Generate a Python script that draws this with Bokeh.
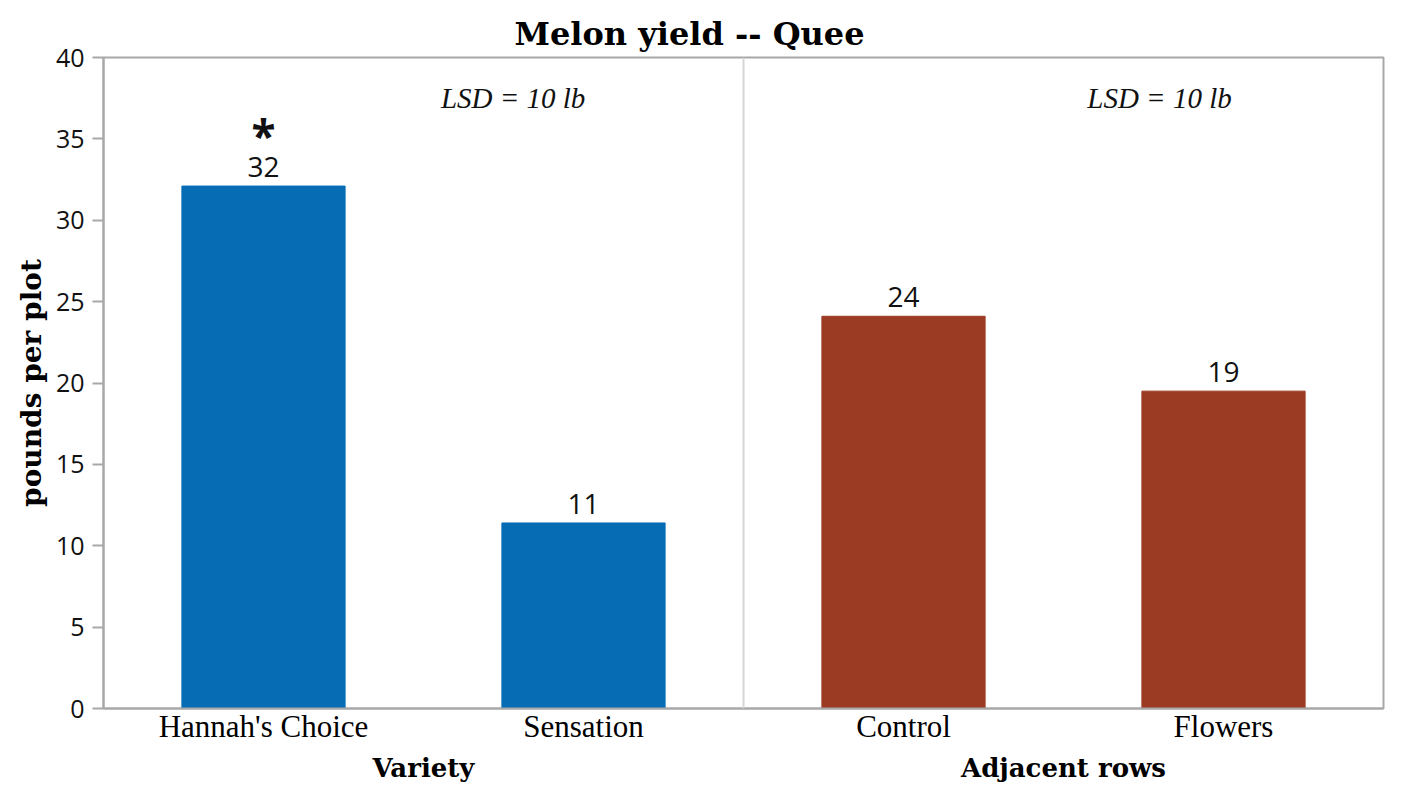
from bokeh.plotting import figure
from bokeh.models import (FactorRange, Range1d, ColumnDataSource, Span, Label,
                          LabelSet, FixedTicker, CategoricalAxis)
from bokeh.core.properties import value
from bokeh.embed import file_html
from bokeh.resources import INLINE

# ---- data ----
groups = ["Variety", "Variety", "Adjacent rows", "Adjacent rows"]
treatments = ["Hannah's Choice", "Sensation", "Control", "Flowers"]
yields = [32.1, 11.4, 24.1, 19.5]
value_labels = ["32", "11", "24", "19"]
significance = ["*", "", "", ""]
bar_colors = ["#066DB5", "#066DB5", "#9C3B24", "#9C3B24"]
lsd_texts = ["LSD = 10 lb", "LSD = 10 lb"]
y_ticks = [0, 5, 10, 15, 20, 25, 30, 35, 40]

src = ColumnDataSource(dict(x=treatments, top=yields, lab=value_labels,
                            sig=significance, color=bar_colors))

SERIF = "Liberation Serif"
SLAB = "DejaVu Serif"
SANS = "Open Sans"
GREY = "#a8a8a8"

p = figure(width=1404, height=793, output_backend="svg", toolbar_location=None,
           x_range=FactorRange(*treatments, factor_padding=0, range_padding=0),
           y_range=Range1d(0, 40),
           min_border_left=103, min_border_right=21, min_border_top=57,
           min_border_bottom=85)

p.vbar(x="x", top="top", width=0.51, color="color", source=src)

p.add_layout(LabelSet(x="x", y="top", text="lab", source=src, y_offset=9,
                      text_align="center", text_baseline="bottom",
                      text_font=value(SANS), text_font_size="28px",
                      text_color="#111111"))
p.add_layout(LabelSet(x="x", y="top", text="sig", source=src, y_offset=21,
                      text_align="center", text_baseline="bottom",
                      text_font=value(SANS), text_font_size="44px",
                      text_font_style="bold", text_color="#111111"))

for xpos, t in zip([1.28, 3.3], lsd_texts):
    p.add_layout(Label(x=xpos, y=37.5, text=t, text_align="center",
                       text_baseline="middle", text_font=SERIF,
                       text_font_style="italic", text_font_size="29px",
                       text_color="#111111"))

p.add_layout(Span(location=2, dimension="height", line_color="#d6d6d6",
                  line_width=2))

# title
p.title.text = "Melon yield -- Quee"
p.title.align = "left"
p.title.offset = 411
p.title.text_font = SLAB
p.title.text_font_size = "32px"
p.title.text_font_style = "bold"
p.title.text_color = "#000000"

p.grid.visible = False
p.outline_line_color = GREY
p.outline_line_width = 2

# y axis
ya = p.yaxis[0]
ya.ticker = FixedTicker(ticks=y_ticks)
ya.axis_label = "pounds per plot"
ya.axis_label_text_font = SLAB
ya.axis_label_text_font_style = "bold"
ya.axis_label_text_font_size = "28px"
ya.axis_label_text_color = "#000000"
ya.major_label_text_font = SANS
ya.major_label_text_font_size = "25px"
ya.major_label_text_color = "#111111"
ya.axis_line_color = GREY
ya.axis_line_width = 2
ya.major_tick_line_color = GREY
ya.major_tick_line_width = 2
ya.major_tick_in = 0
ya.major_tick_out = 11
ya.minor_tick_line_color = None
ya.major_label_standoff = 8

# x axis (treatments)
xa = p.xaxis[0]
xa.axis_line_color = GREY
xa.axis_line_width = 2
xa.major_tick_line_color = None
xa.minor_tick_line_color = None
xa.major_label_text_font = SERIF
xa.major_label_text_font_size = "31px"
xa.major_label_text_color = "#000000"
xa.major_label_standoff = -6

# second x axis for the panel groups
p.extra_x_ranges = {"groups": FactorRange(*dict.fromkeys(groups),
                                          factor_padding=0, range_padding=0)}
ga = CategoricalAxis(x_range_name="groups")
ga.axis_line_color = None
ga.major_tick_line_color = None
ga.minor_tick_line_color = None
ga.major_label_text_font = SLAB
ga.major_label_text_font_style = "bold"
ga.major_label_text_font_size = "26px"
ga.major_label_text_color = "#000000"
ga.major_label_standoff = 0
p.add_layout(ga, "below")

open("out.html", "w").write(file_html(p, INLINE))
